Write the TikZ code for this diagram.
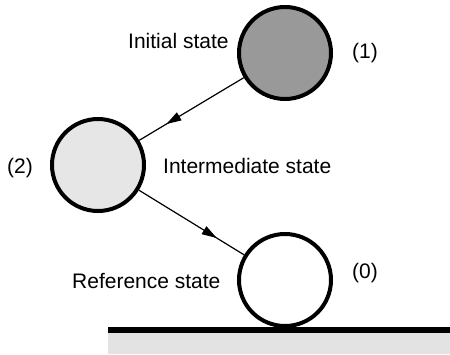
\documentclass[tikz,border=0pt]{standalone}
\usepackage{fontspec}
\setmainfont{Liberation Sans}
\usepackage{tikz}
\usetikzlibrary{arrows.meta,positioning,decorations.markings}

\definecolor{hotgray}{HTML}{999999}
\definecolor{warmgray}{HTML}{E6E6E6}
\definecolor{groundgray}{HTML}{E3E3E3}

\begin{document}
\begin{tikzpicture}[
            x=1pt, y=-1pt,
            state/.style={draw, circle, line width=4pt, minimum size=92pt, inner sep=0pt},
            lbl/.style={font=\fontsize{21}{25}\selectfont, inner sep=0pt, anchor=base west},
            arrow/.style={line width=1.2pt, postaction={decorate}, decoration={markings,
                mark=at position 0.74 with {\arrow{Triangle[length=15pt,width=9pt]}}}}
        ]
        \useasboundingbox (0,0) rectangle (450,354);
        % ground
        \fill[groundgray] (108,330) rectangle (450,354);
        \draw[line width=6pt] (108,330) -- (450,330);
        % states
        \node[state, fill=hotgray] (initial) at (285,53) {};
        \node[state, fill=warmgray] (inter) at (98,165) {};
        \node[state, fill=white] (ref) at (285,280) {};
        % labels
        \node[lbl] (initiallbl) at (128,48) {Initial state};
        \node[lbl] (interlbl) at (163,173) {Intermediate state};
        \node[lbl] (reflbl) at (72,288) {Reference state};
        \node[lbl] (initialnum) at (352,58) {(1)};
        \node[lbl] (internum) at (7,173) {(2)};
        \node[lbl] (refnum) at (352,278) {(0)};
        % transitions
        \draw[arrow] (initial) -- (inter);
        \draw[arrow] (inter) -- (ref);
        \end{tikzpicture}
\end{document}
